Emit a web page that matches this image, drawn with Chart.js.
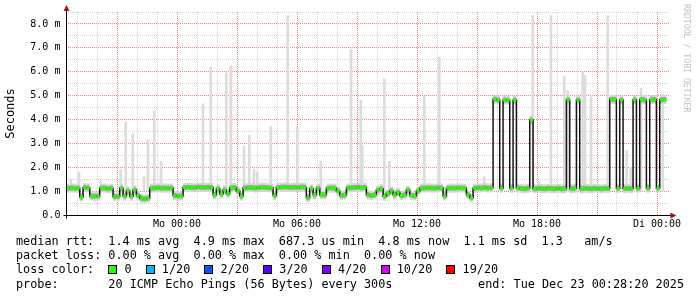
<!DOCTYPE html>
<html>
<head>
<meta charset="utf-8">
<script src="https://cdn.jsdelivr.net/npm/chart.js@4.4.1/dist/chart.umd.min.js"></script>
<style>
html, body { margin: 0; padding: 0; background: #fff; }
#wrap { position: relative; width: 697px; height: 297px; overflow: hidden; }
canvas { position: absolute; left: 0; top: 0; }
.row { position: absolute; left: 16px; font-family: "DejaVu Sans Mono", monospace; font-size: 11.8px; line-height: 14px; white-space: pre; color: #000; }
.sw { display: inline-block; width: 9px; height: 9px; box-sizing: border-box; border: 1px solid #000; vertical-align: -1px; }
#mark { position: absolute; left: 682px; top: 4px; writing-mode: vertical-rl; font-family: "DejaVu Sans Mono", monospace; font-size: 8.2px; line-height: 10px; color: #c4c4c4; white-space: pre; }
</style>
</head>
<body>
<div id="wrap">
  <canvas id="graph" width="697" height="297"></canvas>
  <div id="mark">RRDTOOL / TOBI OETIKER</div>
  <div class="row" style="top:234px">median rtt:  1.4 ms avg  4.9 ms max  687.3 us min  4.8 ms now  1.1 ms sd  1.3   am/s</div>
  <div class="row" style="top:248px">packet loss: 0.00 % avg  0.00 % max  0.00 % min  0.00 % now</div>
  <div class="row" id="lossRow" style="top:262px"></div>
  <div class="row" style="top:277px">probe:       20 ICMP Echo Pings (56 Bytes) every 300s</div>
  <div class="row" style="top:277px;left:auto;right:13px">end: Tue Dec 23 00:28:20 2025</div>
</div>
<script>
// hours relative to Mo 00:00, one median value per 10 minutes (ms)
const startHour = -5.53;
const endHour = 24.62;
const stepHour = 1 / 6;

const medianMs = [
  1.12,1.13,1.12,1.12,0.75,1.15,1.13,0.80,0.78,0.80,
  1.12,1.13,1.10,1.12,0.76,0.77,1.12,0.80,1.00,0.78,
  1.05,0.82,0.70,0.68,0.70,1.12,1.13,1.14,1.12,1.13,
  1.12,1.13,0.82,0.80,0.80,1.15,1.16,1.15,1.14,1.17,
  1.16,1.15,1.16,1.15,0.85,1.10,0.88,1.05,0.90,1.14,
  1.15,1.00,0.80,1.13,1.14,1.15,1.13,1.14,1.16,1.15,
  1.14,1.13,0.82,1.15,1.16,1.17,1.16,1.15,1.16,1.15,
  1.17,1.16,0.72,1.10,0.85,1.12,0.85,0.85,1.12,1.13,
  1.12,1.00,0.82,0.84,1.13,1.14,1.15,1.16,1.14,1.15,
  0.85,0.82,0.85,1.05,1.10,0.78,0.90,1.00,0.85,0.95,
  0.82,0.85,1.05,0.82,0.80,1.00,1.12,1.13,1.14,1.13,
  1.12,1.14,1.13,0.80,1.12,1.13,1.12,1.14,1.13,1.12,
  0.85,0.72,1.12,1.14,1.13,1.15,1.13,1.14,4.85,4.82,
  1.12,4.82,4.80,1.12,4.80,1.13,1.11,1.10,1.12,3.98,
  1.10,1.12,1.11,1.10,1.12,1.11,1.10,1.12,1.10,1.11,
  4.82,1.10,1.12,4.82,1.10,1.12,1.11,1.10,1.12,1.11,
  1.10,1.12,1.11,4.85,4.84,1.12,4.82,1.11,1.12,1.10,
  4.83,1.12,4.84,4.82,1.12,4.83,4.84,1.12,4.83,4.84
];

// max ping smoke spikes
const spikeHours = [-5.315,-4.9,-3.815,-2.815,-2.565,-2.215,-1.65,-1.45,-1.135,-0.8,
  1.3,1.685,2.465,2.685,3.35,3.615,3.85,4.015,4.685,5.535,6.015,7.185,8.7,9.185,9.265,
  10.365,10.615,12.365,13.115,15.365,17.785,18.1,18.7,19.365,19.535,20.285,20.4,20.7,
  21.535,22.485,22.685,23.2,24.285];
const spikeTopMs = [1.5,1.8,1.45,1.9,3.9,3.4,1.6,3.15,4.35,2.25,
  4.65,6.2,5.95,6.25,2.9,3.35,1.9,1.8,3.7,8.35,3.7,2.25,6.95,4.8,2.9,
  5.7,2.25,4.97,6.6,1.6,8.35,1.4,8.35,5.8,5.2,6.0,5.85,4.95,
  8.35,2.7,2.0,5.3,5.05];
const spikeBaseMs = 1.0;

const yLabelValues = [0, 1, 2, 3, 4, 5, 6, 7, 8];
const yLabelTexts = ['0.0', '1.0 m', '2.0 m', '3.0 m', '4.0 m', '5.0 m', '6.0 m', '7.0 m', '8.0 m'];
const xLabelHours = [0, 6, 12, 18, 24];
const xLabelTexts = ['Mo 00:00', 'Mo 06:00', 'Mo 12:00', 'Mo 18:00', 'Di 00:00'];

const lossLabels = ['0', '1/20', '2/20', '3/20', '4/20', '10/20', '19/20'];
const lossColors = ['#26ff00', '#00b8ff', '#0059ff', '#5e00ff', '#7e00ff', '#dd00ff', '#ff0000'];

var lossHtml = 'loss color:  ';
lossLabels.forEach(function(l, i) {
  lossHtml += '<span class="sw" style="background:' + lossColors[i] + '"></span> ' + l + (i < lossLabels.length - 1 ? '  ' : '');
});
document.getElementById('lossRow').innerHTML = lossHtml;

var majorGrid = 'rgb(240,130,130)';
var minorGrid = 'rgb(212,212,212)';
var monoFont = 'DejaVu Sans Mono';

var medianPoints = medianMs.map(function(v, i) { return {x: startHour + (i + 0.5) * stepHour, y: v}; });
var spikeBars = spikeHours.map(function(h, i) { return {x: h, y: [spikeBaseMs, spikeTopMs[i]]}; });

var yGrid = [];
for (var v = 0; v <= 8.5; v += 0.5) yGrid.push({value: v});
var xGrid = [];
for (var h = -5; h <= 24; h++) xGrid.push({value: h});

function isMajor(value, every) {
  return Math.abs(value / every - Math.round(value / every)) < 1e-6;
}

/* axes with the little rrdtool arrows */
var axisArrows = {
  id: 'axisArrows',
  afterDatasetsDraw: function(chart) {
    var ctx = chart.ctx, a = chart.chartArea;
    var x0 = Math.round(a.left) + 0.5, y0 = Math.round(a.bottom) + 0.5;
    ctx.save();
    ctx.strokeStyle = '#000';
    ctx.lineWidth = 1;
    ctx.beginPath();
    ctx.moveTo(x0 - 3, y0); ctx.lineTo(a.right + 2, y0);
    ctx.moveTo(x0, y0 + 3); ctx.lineTo(x0, a.top - 2);
    ctx.stroke();
    ctx.fillStyle = '#9a1a1a';
    ctx.beginPath();
    ctx.moveTo(x0, a.top - 7); ctx.lineTo(x0 - 3, a.top - 1); ctx.lineTo(x0 + 3, a.top - 1); ctx.closePath();
    ctx.moveTo(a.right + 7, y0); ctx.lineTo(a.right + 1, y0 - 3); ctx.lineTo(a.right + 1, y0 + 3); ctx.closePath();
    ctx.fill();
    ctx.restore();
  }
};

var graph = new Chart(document.getElementById('graph'), {
  type: 'line',
  data: {
    datasets: [
      { data: medianPoints, showLine: false, pointStyle: 'line', pointRadius: 1.667, pointHoverRadius: 1.667,
        pointBorderWidth: 3, pointBorderColor: lossColors[0], order: 1 },
      { data: medianPoints, stepped: 'middle', borderColor: '#151515', borderWidth: 1.5, pointRadius: 0, fill: false, order: 2 },
      { data: medianPoints, showLine: false, pointStyle: 'line', pointRadius: 1.667, pointHoverRadius: 1.667,
        pointBorderWidth: 5, pointBorderColor: '#a0a0a0', order: 3 },
      { data: medianPoints, showLine: false, pointStyle: 'line', pointRadius: 1.667, pointHoverRadius: 1.667,
        pointBorderWidth: 9, pointBorderColor: '#d6d6d6', order: 4 },
      { type: 'bar', data: spikeBars, backgroundColor: '#dcdcdc', barThickness: 2, order: 5 }
    ]
  },
  options: {
    responsive: false,
    animation: false,
    devicePixelRatio: 1,
    events: [],
    layout: { padding: { left: 0, top: 11, right: 27.6, bottom: 0 } },
    plugins: { legend: { display: false }, tooltip: { enabled: false } },
    scales: {
      x: {
        type: 'linear', min: startHour, max: endHour, offset: false,
        afterFit: function(s) { s.height = 82; },
        afterBuildTicks: function(s) { s.ticks = xGrid.slice(); },
        grid: { color: function(c) { return c.tick && isMajor(c.tick.value, 3) ? majorGrid : minorGrid; },
                lineWidth: 1, drawTicks: false, offset: false },
        border: { display: false, dash: [1, 1] },
        ticks: { autoSkip: false, maxRotation: 0, padding: 3, color: '#000', font: { family: monoFont, size: 10 },
                 callback: function(v) { var k = xLabelHours.indexOf(v); return k < 0 ? '' : xLabelTexts[k]; } }
      },
      y: {
        type: 'linear', min: 0, max: 8.5,
        afterFit: function(s) { s.width = 66.4; },
        afterBuildTicks: function(s) { s.ticks = yGrid.slice(); },
        grid: { color: function(c) {
                  if (!c.tick || c.tick.value === 0) return 'rgba(0,0,0,0)';
                  return isMajor(c.tick.value, 1) ? majorGrid : minorGrid; },
                lineWidth: 1, drawTicks: false },
        border: { display: false, dash: [1, 1] },
        ticks: { autoSkip: false, padding: 6, color: '#000', font: { family: monoFont, size: 10 },
                 callback: function(v) { var k = yLabelValues.indexOf(v); return k < 0 ? '' : yLabelTexts[k]; } },
        title: { display: true, text: 'Seconds', color: '#000', font: { family: monoFont, size: 12 }, padding: { top: 4, bottom: 0 } }
      }
    }
  },
  plugins: [axisArrows]
});
</script>
</body>
</html>
